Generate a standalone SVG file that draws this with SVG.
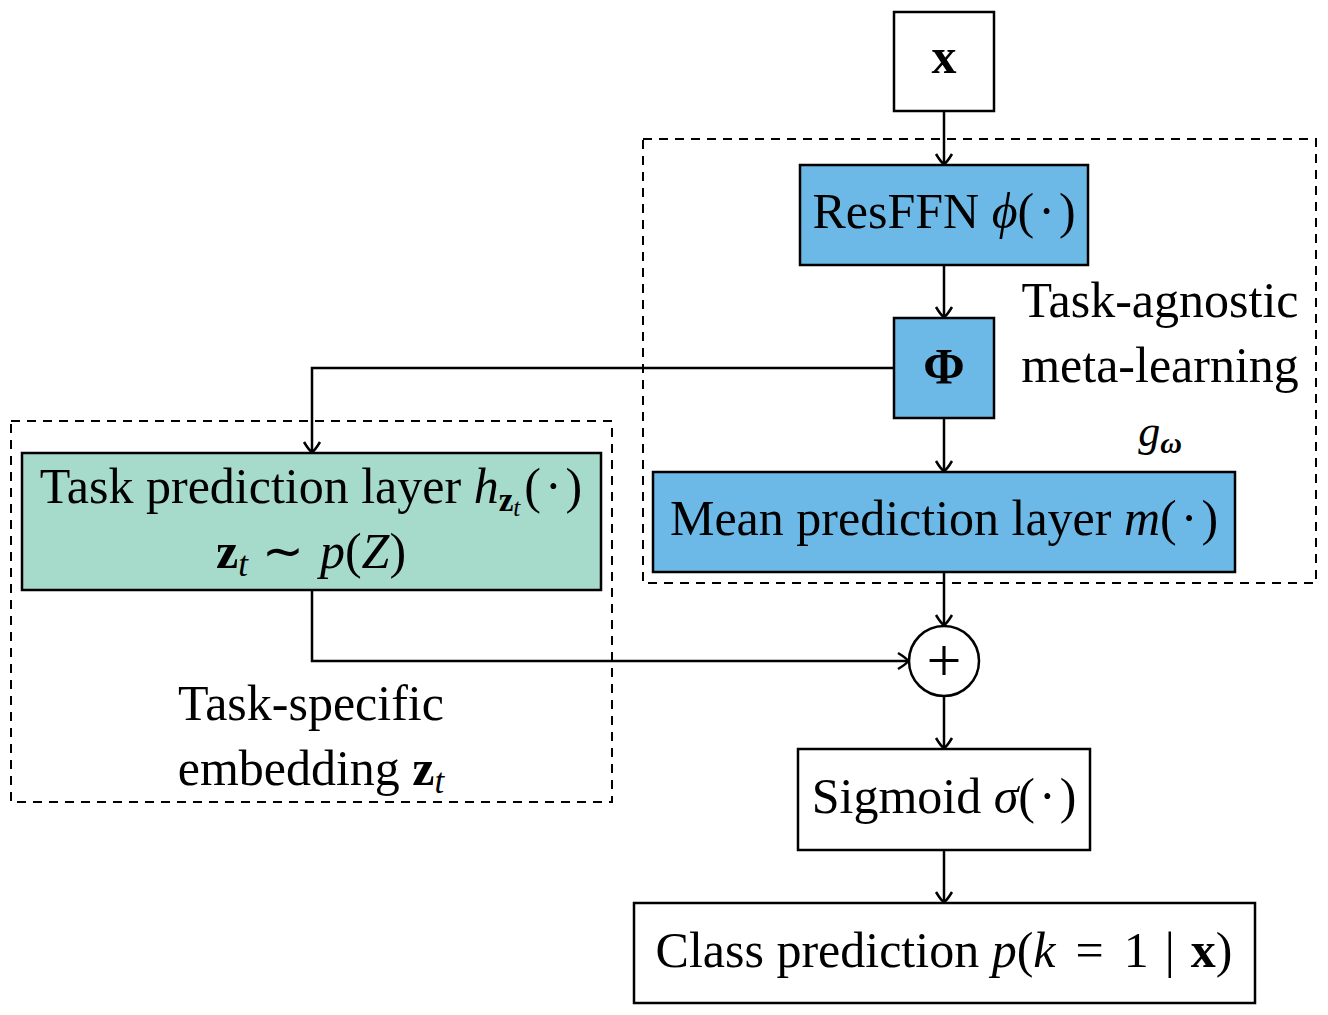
<svg xmlns="http://www.w3.org/2000/svg" width="1328" height="1015" viewBox="0 0 1328 1015">
<defs>
<style>
.box{stroke:#000;stroke-width:2.5}
.blue{fill:#6cb9e7}
.green{fill:#a6dacb}
.white{fill:#fff}
.dash{fill:none;stroke:#000;stroke-width:2;stroke-dasharray:9,7}
.t{font-family:"Liberation Serif","Times New Roman",serif;font-size:50px;fill:#000;text-anchor:middle}
.i{font-style:italic}
.b{font-weight:bold}
.c{fill:none;stroke:#000;stroke-width:2.5}
</style>
<marker id="arr" markerUnits="userSpaceOnUse" markerWidth="24" markerHeight="24" viewBox="-12 -12 24 24" refX="0" refY="0" orient="auto">
<path d="M -10,-8 C -5,-5 -1,-2 0,0 C -1,2 -5,5 -10,8" fill="none" stroke="#000" stroke-width="2.5"/>
</marker>
</defs>
<rect width="1328" height="1015" fill="#fff"/>
<rect class="dash" x="643" y="139" width="673" height="444"/>
<rect class="dash" x="11" y="421" width="601" height="381"/>
<g id="connectors">
<path class="c" d="M944,111 V164" marker-end="url(#arr)"/>
<path class="c" d="M944,265 V317" marker-end="url(#arr)"/>
<path class="c" d="M894,368 H312 V452" marker-end="url(#arr)"/>
<path class="c" d="M944,418 V471" marker-end="url(#arr)"/>
<path class="c" d="M944,572 V625" marker-end="url(#arr)"/>
<path class="c" d="M312,590 V661 H908" marker-end="url(#arr)"/>
<path class="c" d="M944,697 V748" marker-end="url(#arr)"/>
<path class="c" d="M944,850 V902" marker-end="url(#arr)"/>
</g>
<g id="node-x">
<rect class="box white" x="894" y="12" width="100" height="99"/>
<text class="t b" x="944" y="73">x</text>
</g>
<g id="node-resffn">
<rect class="box blue" x="800" y="165" width="288" height="100"/>
<text class="t" x="944" y="228">ResFFN <tspan class="i">ϕ</tspan>(<tspan dx="4">·</tspan><tspan dx="4">)</tspan></text>
</g>
<g id="node-phi">
<rect class="box blue" x="894" y="318" width="100" height="100"/>
<text class="t b" x="944" y="383">Φ</text>
</g>
<g id="label-agnostic">
<text class="t" x="1160" y="317">Task-agnostic</text>
<text class="t" x="1160" y="382">meta-learning</text>
<text class="t i" x="1160" y="446" style="font-size:44px">g<tspan style="font-size:30px" dy="7" font-weight="bold">ω</tspan></text>
</g>
<g id="node-mean">
<rect class="box blue" x="653" y="472" width="582" height="100"/>
<text class="t" x="944" y="535">Mean prediction layer <tspan class="i">m</tspan>(<tspan dx="4">·</tspan><tspan dx="4">)</tspan></text>
</g>
<g id="node-task">
<rect class="box green" x="22" y="453" width="579" height="137"/>
<text class="t" x="311" y="503">Task prediction layer <tspan class="i">h</tspan><tspan style="font-size:33px" dy="8" class="b">z</tspan><tspan style="font-size:25px" dy="5" class="i">t</tspan><tspan dy="-13" dx="4">(</tspan><tspan dx="4">·</tspan><tspan dx="4">)</tspan></text>
<text class="t" x="311" y="568"><tspan class="b">z</tspan><tspan class="i" style="font-size:35px" dy="8">t</tspan><tspan dy="-8" dx="14">∼</tspan><tspan class="i" dx="16">p</tspan>(<tspan class="i">Z</tspan>)</text>
</g>
<g id="label-specific">
<text class="t" x="311" y="720">Task-specific</text>
<text class="t" x="311" y="785">embedding <tspan class="b">z</tspan><tspan class="i" style="font-size:35px" dy="8">t</tspan></text>
</g>
<g id="node-sum">
<circle class="box white" cx="944" cy="661" r="35"/>
<text class="t" x="944" y="681" style="font-size:62px">+</text>
</g>
<g id="node-sigmoid">
<rect class="box white" x="798" y="749" width="292" height="101"/>
<text class="t" x="944" y="813">Sigmoid <tspan class="i">σ</tspan>(<tspan dx="4">·</tspan><tspan dx="4">)</tspan></text>
</g>
<g id="node-class">
<rect class="box white" x="634" y="903" width="621" height="100"/>
<text class="t" x="944" y="967">Class prediction <tspan class="i">p</tspan>(<tspan class="i">k</tspan><tspan dx="20">=</tspan><tspan dx="20">1</tspan><tspan dx="16">|</tspan><tspan dx="16" class="b">x</tspan>)</text>
</g>
</svg>
